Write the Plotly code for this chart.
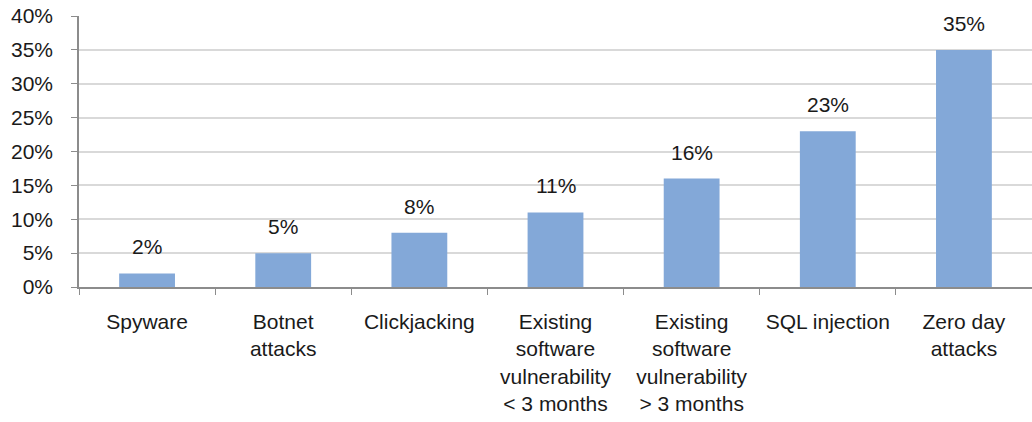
import plotly.graph_objects as go

categories = ["Spyware", "Botnet<br>attacks", "Clickjacking",
              "Existing<br>software<br>vulnerability<br>< 3 months",
              "Existing<br>software<br>vulnerability<br>> 3 months",
              "SQL injection", "Zero day<br>attacks"]
values = [2, 5, 8, 11, 16, 23, 35]
labels = ["2%", "5%", "8%", "11%", "16%", "23%", "35%"]
y_ticks = [0, 5, 10, 15, 20, 25, 30, 35, 40]
y_tick_labels = ["0%", "5%", "10%", "15%", "20%", "25%", "30%", "35%", "40%"]

FONT = "Liberation Sans, Arial, sans-serif"

fig = go.Figure()
fig.add_trace(go.Bar(
    x=categories, y=values,
    marker=dict(color="#83A8D8", line=dict(width=0)),
    width=0.41,
    hoverinfo="skip",
))

for c, v, t in zip(categories, values, labels):
    fig.add_annotation(x=c, y=v, text=t, showarrow=False, yanchor="bottom",
                       yshift=13, font=dict(family=FONT, size=21, color="#1a1a1a"))

fig.update_layout(
    width=1032, height=422,
    margin=dict(l=79, r=0, t=16, b=135),
    paper_bgcolor="white", plot_bgcolor="white",
    showlegend=False,
    font=dict(family=FONT, size=21, color="#1a1a1a"),
)
fig.update_xaxes(
    type="category",
    showline=True, linecolor="#8c8c8c", linewidth=1.5,
    ticks="outside", tickson="boundaries", ticklen=6, tickcolor="#8c8c8c",
    showgrid=False,
    ticklabelstandoff=15,
    tickfont=dict(family=FONT, size=21, color="#1a1a1a"),
    tickangle=0,
)
fig.update_yaxes(
    range=[0, 40],
    tickvals=y_ticks, ticktext=y_tick_labels,
    showline=True, linecolor="#8c8c8c", linewidth=1.5,
    ticks="outside", ticklen=6, tickcolor="#8c8c8c",
    showgrid=True, gridcolor="#d9d9d9", gridwidth=1.5,
    zeroline=False,
    ticklabelstandoff=14,
    tickfont=dict(family=FONT, size=21, color="#1a1a1a"),
)

fig.write_html("out.html")
